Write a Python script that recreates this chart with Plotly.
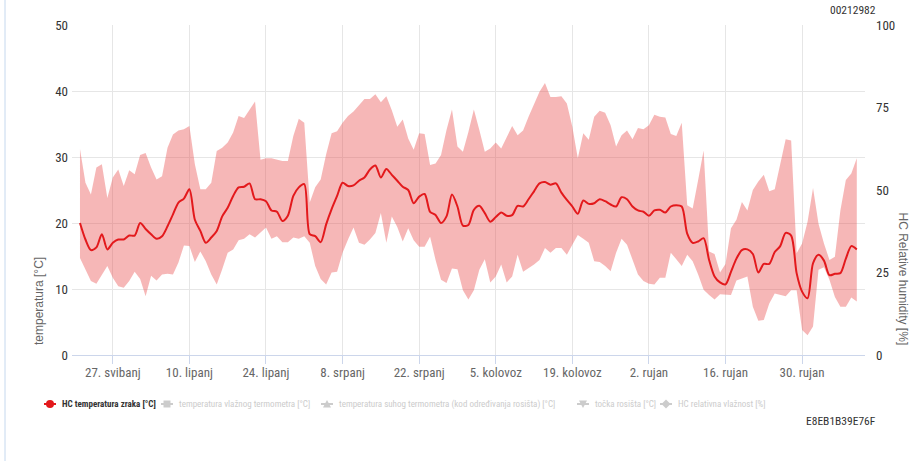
import pandas as pd
import plotly.graph_objects as go

# Daily series, 21 May - 10 Oct
start_date = "2023-05-21"
n_days = 143

temp_upper = [
    31.2, 26.1, 24.3, 28.4, 28.9, 23.8, 26.9, 28.1, 25.6, 28.0,
    27.4, 30.3, 30.6, 28.4, 26.6, 27.1, 31.4, 33.4, 34.0, 34.2,
    34.7, 28.9, 25.1, 25.1, 26.1, 30.9, 31.4, 32.2,
    33.7, 36.2, 35.9, 37.2, 38.4, 29.6, 29.8, 29.8, 29.6, 29.4,
    29.4, 33.2, 35.8, 35.2, 23.1, 25.4, 26.6, 30.4, 33.6, 33.9,
    35.2, 36.2, 36.9, 37.9, 38.8, 38.8, 39.5, 38.3, 39.2,
    37.1, 34.6, 35.7, 32.8, 31.1, 33.6, 33.5, 28.8, 29.0, 30.3,
    34.1, 37.2, 31.6, 30.8, 33.8, 37.2, 34.1, 30.8, 31.3, 32.2,
    31.3, 33.1, 34.7, 33.3, 34.0, 36.1, 37.9, 39.9, 41.2,
    39.1, 39.1, 39.2, 38.1, 34.6, 29.8, 33.6, 32.6, 36.1, 37.0,
    36.7, 34.8, 31.6, 33.3, 34.0, 32.7, 34.4, 34.2, 34.8, 36.4,
    36.1, 36.0, 33.5, 33.2, 35.2, 22.7, 22.2, 26.5, 31.0,
    15.7, 15.3, 12.5, 13.8, 19.2, 20.5, 23.2, 21.9, 25.0, 26.3,
    27.3, 24.8, 25.1, 28.8, 32.7, 32.5, 15.4, 16.9, 20.2, 25.3,
    19.9, 16.9, 14.4, 14.9, 21.9, 26.5, 27.5, 29.8,
]

temp_lower = [
    14.7, 13.0, 11.2, 10.8, 12.2, 13.5, 11.7, 10.4, 10.2, 11.2,
    12.6, 11.5, 8.9, 12.0, 11.3, 12.2, 12.3, 12.2, 14.0, 16.6,
    16.5, 14.1, 15.7, 14.2, 12.2, 10.7, 13.0, 15.5,
    16.0, 17.4, 17.6, 18.3, 17.8, 18.5, 19.3, 17.6, 18.0, 17.1,
    17.1, 17.8, 17.6, 18.0, 17.0, 13.5, 11.5, 10.7, 12.5, 12.6,
    15.5, 17.5, 19.3, 17.0, 16.7, 17.5, 18.5, 21.5, 17.0,
    21.0, 19.4, 17.2, 19.2, 17.4, 16.4, 16.4, 17.9, 14.4, 11.4,
    10.9, 13.1, 13.0, 9.8, 8.4, 9.8, 12.9, 14.5, 11.0, 11.9,
    13.7, 11.0, 11.9, 15.2, 12.6, 13.1, 13.7, 14.4, 16.2,
    15.5, 16.2, 16.2, 15.2, 16.7, 18.2, 17.6, 17.0, 14.2, 14.1,
    13.5, 12.7, 15.5, 17.6, 16.7, 14.4, 12.2, 11.2, 10.8, 10.7,
    11.7, 11.7, 15.5, 14.5, 13.5, 15.2, 14.2, 12.2, 9.9,
    9.1, 8.4, 9.2, 9.2, 9.1, 11.3, 11.6, 11.9, 7.3, 5.2,
    5.3, 7.8, 9.3, 9.1, 8.9, 9.8, 9.8, 3.8, 3.0, 4.3,
    12.9, 13.3, 11.4, 8.8, 7.3, 7.3, 8.7, 8.1,
]

temp_air = [
    20.0, 17.5, 15.9, 16.3, 18.3, 16.0, 17.0, 17.5, 17.5, 18.1,
    18.1, 20.0, 19.1, 18.3, 17.6, 18.0, 19.5, 21.3, 23.1, 23.7,
    25.1, 20.5, 18.8, 17.0, 17.8, 18.8, 21.0, 22.3,
    24.1, 25.4, 25.5, 26.0, 23.6, 23.6, 23.3, 21.9, 21.7, 20.3,
    21.1, 24.1, 25.4, 25.9, 18.3, 18.0, 17.1, 19.8, 22.1, 24.1,
    26.1, 25.6, 25.7, 26.4, 26.9, 28.1, 28.7, 26.9, 28.2,
    27.3, 26.4, 25.5, 25.0, 23.0, 24.0, 24.4, 21.7, 21.2, 20.0,
    21.0, 24.3, 22.5, 19.6, 19.7, 22.0, 22.6, 21.5, 20.2, 20.9,
    21.6, 21.1, 21.2, 22.6, 22.5, 23.6, 24.8, 26.0, 26.2,
    25.8, 26.0, 24.6, 23.5, 22.5, 21.4, 23.4, 22.9, 23.0, 23.6,
    23.3, 22.8, 22.5, 23.9, 23.6, 22.5, 21.9, 21.7, 21.1, 21.9,
    22.0, 21.6, 22.5, 22.7, 22.5, 18.4, 17.0, 17.2, 17.7,
    14.4, 11.9, 11.0, 10.7, 12.6, 14.6, 15.9, 16.0, 15.3, 12.5,
    13.8, 13.8, 15.6, 16.5, 18.5, 18.1, 12.4, 9.6, 8.6, 13.9,
    15.2, 14.3, 12.1, 12.3, 12.4, 14.6, 16.5, 16.0,
]

tick_dates = ["2023-05-27", "2023-06-10", "2023-06-24", "2023-07-08", "2023-07-22",
              "2023-08-05", "2023-08-19", "2023-09-02", "2023-09-16", "2023-09-30"]
tick_labels = ["27. svibanj", "10. lipanj", "24. lipanj", "8. srpanj", "22. srpanj",
               "5. kolovoz", "19. kolovoz", "2. rujan", "16. rujan", "30. rujan"]

# legend entries: label, marker symbol, switched on?
legend_items = [
    ("HC temperatura zraka [°C]", "circle", True),
    ("temperatura vlažnog termometra [°C]", "square", False),
    ("temperatura suhog termometra (kod određivanja rosišta) [°C]", "triangle-up", False),
    ("točka rosišta [°C]", "triangle-down", False),
    ("HC relativna vlažnost [%]", "diamond", False),
]
legend_symbol_x = [44, 161, 321, 577, 660]

dates = pd.date_range(start_date, periods=n_days, freq="D")

NARROW = "Liberation Sans Narrow, Arial Narrow, Roboto Condensed, Liberation Sans, sans-serif"
REG = "Liberation Sans, Arial, sans-serif"
RED = "#e3191c"
OFF = "#cccccc"

# plot-area geometry in pixels
W, H = 915, 461
L, R, T, B = 72, 50, 25, 106
PW, PH = W - L - R, H - T - B


def px_x(px):
    return (px - L) / PW


def px_y(py):
    return (H - B - py) / PH


fig = go.Figure()

# min/max range band
fig.add_trace(go.Scatter(x=dates, y=temp_lower, mode="lines", line=dict(width=0, color="rgba(0,0,0,0)"),
                         showlegend=False, hoverinfo="skip"))
fig.add_trace(go.Scatter(x=dates, y=temp_upper, mode="lines", line=dict(width=0, color="rgba(0,0,0,0)"),
                         fill="tonexty", fillcolor="rgba(232,76,76,0.4)",
                         showlegend=False, hoverinfo="skip"))

# air temperature line
fig.add_trace(go.Scatter(x=dates, y=temp_air, mode="lines",
                         line=dict(color=RED, width=2, shape="spline", smoothing=0.8),
                         name="HC temperatura zraka [°C]", showlegend=False))

fig.update_layout(
    width=W, height=H,
    margin=dict(l=L, r=R, t=T, b=B),
    paper_bgcolor="white", plot_bgcolor="white",
    font=dict(family=NARROW, size=12, color="#333333"),
    showlegend=False,
    xaxis=dict(
        type="date",
        range=["2023-05-19 13:00", "2023-10-11 12:00"],
        tickmode="array", tickvals=tick_dates, ticktext=tick_labels,
        tickfont=dict(family=NARROW, size=13, color="#666666"),
        showgrid=True, gridcolor="#e6e6e6", gridwidth=1,
        showline=True, linecolor="#ccd6eb", linewidth=1,
        ticks="outside", ticklen=8, tickcolor="#ccd6eb",
        ticklabelstandoff=-3,
        zeroline=False,
    ),
    yaxis=dict(
        range=[0, 50], dtick=10, tick0=0,
        tickfont=dict(family=NARROW, size=13, color="#333333"),
        showgrid=True, gridcolor="#e6e6e6", gridwidth=1,
        zeroline=False, ticks="", ticklabelstandoff=3,
    ),
    yaxis2=dict(
        range=[0, 100], dtick=25, tick0=0, overlaying="y", side="right",
        tickfont=dict(family=NARROW, size=13, color="#333333"),
        showgrid=False, zeroline=False, ticks="", ticklabelstandoff=10,
        showticklabels=True,
    ),
)

# humidity axis carries no visible series but keeps its scale
fig.add_trace(go.Scatter(x=[None], y=[None], yaxis="y2", showlegend=False, hoverinfo="skip"))

# legend row
LEG_Y = 404
for (label, symbol, on), sx in zip(legend_items, legend_symbol_x):
    col = RED if on else OFF
    fig.add_shape(type="line", xref="paper", yref="paper",
                  x0=px_x(sx), x1=px_x(sx + 12), y0=px_y(LEG_Y), y1=px_y(LEG_Y),
                  line=dict(color=col, width=2))
    cx, cy = px_x(sx + 6), px_y(LEG_Y)
    marker = dict(xref="paper", yref="paper", xsizemode="pixel", ysizemode="pixel",
                  xanchor=cx, yanchor=cy, fillcolor=col, line=dict(width=0))
    if symbol == "circle":
        fig.add_shape(type="circle", x0=-4, x1=4, y0=-4, y1=4, **marker)
    elif symbol == "square":
        fig.add_shape(type="rect", x0=-3.5, x1=3.5, y0=-3.5, y1=3.5, **marker)
    elif symbol == "triangle-up":
        fig.add_shape(type="path", path="M -4 -3.5 L 4 -3.5 L 0 4 Z", **marker)
    elif symbol == "triangle-down":
        fig.add_shape(type="path", path="M -4 3.5 L 4 3.5 L 0 -4 Z", **marker)
    else:
        fig.add_shape(type="path", path="M 0 4.5 L 4.5 0 L 0 -4.5 L -4.5 0 Z", **marker)
    text = "<b>" + label + "</b>" if on else label
    fig.add_annotation(text=text, xref="paper", yref="paper", x=px_x(sx + 16), y=cy,
                       xanchor="left", yanchor="middle", showarrow=False,
                       font=dict(family=NARROW, size=9, color="#333333" if on else OFF))

# axis titles anchored at the bottom of the plot area
fig.add_annotation(text="temperatura [°C]", textangle=-90, xref="paper", yref="paper",
                   x=px_x(39), y=px_y(347), xanchor="center", yanchor="bottom", showarrow=False,
                   font=dict(family=REG, size=12, color="#666666"))
fig.add_annotation(text="HC Relative humidity [%]", textangle=90, xref="paper", yref="paper",
                   x=px_x(903), y=px_y(347), xanchor="center", yanchor="bottom", showarrow=False,
                   font=dict(family=REG, size=12, color="#666666"))

# station / device identifiers
fig.add_annotation(text="00212982", xref="paper", yref="paper", x=px_x(878), y=px_y(10),
                   xanchor="right", yanchor="middle", showarrow=False,
                   font=dict(family=NARROW, size=11.5, color="#333333"))
fig.add_annotation(text="E8EB1B39E76F", xref="paper", yref="paper", x=px_x(878), y=px_y(421),
                   xanchor="right", yanchor="middle", showarrow=False,
                   font=dict(family=NARROW, size=11.5, color="#333333"))

# container border on the left
fig.add_shape(type="line", xref="paper", yref="paper", x0=px_x(5), x1=px_x(5),
              y0=px_y(461), y1=px_y(0), line=dict(color="#c5d8ee", width=1))

fig.write_html("out.html")
